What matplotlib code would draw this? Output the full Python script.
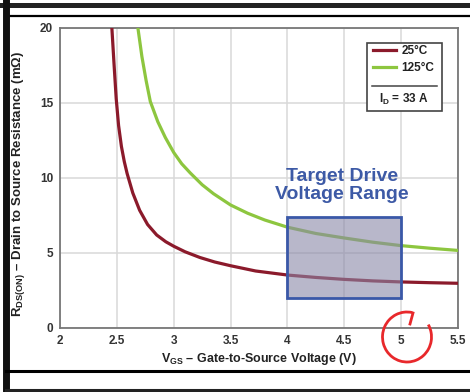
import numpy as np
import matplotlib
matplotlib.use("Agg")
import matplotlib.pyplot as plt
from matplotlib.patches import Rectangle, Arc
from matplotlib.lines import Line2D

vgs_25 = [2.456, 2.475, 2.494, 2.515, 2.54, 2.565, 2.59, 2.64, 2.70, 2.77,
          2.85, 2.93, 3.0, 3.1, 3.23, 3.36, 3.5, 3.72, 4.0, 4.25, 4.5,
          4.75, 5.0, 5.25, 5.5]
rds_25 = [20, 17.6, 15.3, 13.5, 12.1, 11.1, 10.3, 9.0, 7.85, 6.9,
          6.2, 5.75, 5.45, 5.08, 4.7, 4.4, 4.15, 3.8, 3.53, 3.37, 3.24,
          3.14, 3.07, 3.02, 2.98]
vgs_125 = [2.685, 2.72, 2.757, 2.794, 2.86, 2.926, 3.0, 3.07, 3.146, 3.25,
           3.35, 3.5, 3.65, 3.8, 4.0, 4.25, 4.5, 4.75, 5.0, 5.25, 5.5]
rds_125 = [20, 18.1, 16.5, 15.1, 13.75, 12.7, 11.7, 10.95, 10.33, 9.55,
           8.95, 8.2, 7.65, 7.2, 6.72, 6.3, 6.0, 5.72, 5.49, 5.32, 5.17]
labels = ["25°C", "125°C"]
courant = "I$_\\mathregular{D}$ = 33 A"

# Zone cible
v_min, v_max = 4.0, 5.0
r_min, r_max = 2.0, 7.4

x_ticks = [2, 2.5, 3, 3.5, 4, 4.5, 5, 5.5]
y_ticks = [0, 5, 10, 15, 20]

plt.rcParams["font.family"] = ["Liberation Sans", "DejaVu Sans"]
plt.rcParams["mathtext.fontset"] = "custom"
plt.rcParams["mathtext.rm"] = "Liberation Sans:bold"

fig = plt.figure(figsize=(4.7, 3.92), dpi=100)
ax = fig.add_axes([0.1277, 0.1633, 0.8468, 0.7653])

ax.plot(vgs_25, rds_25, color="#8b1a2b", lw=2.3, label=labels[0], zorder=3)
ax.plot(vgs_125, rds_125, color="#8dc63f", lw=2.3, label=labels[1], zorder=3)

# Rectangle de la plage de commande
ax.add_patch(Rectangle((v_min, r_min), v_max - v_min, r_max - r_min,
                       facecolor="#8a87a8", alpha=0.6, edgecolor="none", zorder=4))
ax.add_patch(Rectangle((v_min, r_min), v_max - v_min, r_max - r_min,
                       facecolor="none", edgecolor="#3a58a8", lw=2.0, zorder=5))
ax.text((v_min + v_max) / 2 - 0.02, 9.5, "Target Drive\nVoltage Range",
        ha="center", va="center", color="#3d5aa6", fontsize=14,
        fontweight="bold", linespacing=1.05, zorder=6)

ax.set_xlim(2, 5.5)
ax.set_ylim(0, 20)
ax.set_xticks(x_ticks)
ax.set_xticklabels([f"{t:g}" for t in x_ticks])
ax.set_yticks(y_ticks)
ax.tick_params(length=0, labelsize=8.5, colors="#333333", pad=5)
for lab in ax.get_xticklabels() + ax.get_yticklabels():
    lab.set_fontweight("bold")
ax.grid(True, color="#d9d9d9", lw=1.1)
ax.set_axisbelow(True)
for s in ax.spines.values():
    s.set_color("#777777")
    s.set_linewidth(1.3)

ax.set_xlabel("V$_\\mathregular{GS}$ – Gate-to-Source Voltage (V)",
              fontsize=9, fontweight="bold", color="#222222", labelpad=3)
ax.set_ylabel("R$_\\mathregular{DS(ON)}$ – Drain to Source Resistance (mΩ)",
              fontsize=9.5, fontweight="bold", color="#222222")
ax.yaxis.set_label_coords(-0.083, 0.48)

# Légende dans un cadre avec le courant
leg = ax.legend(loc="upper left", bbox_to_anchor=(0.775, 0.96), frameon=False,
                handlelength=1.9, handletextpad=0.5, fontsize=8.5,
                labelspacing=0.45, borderaxespad=0)
for t in leg.get_texts():
    t.set_fontweight("bold")
    t.set_color("#222222")
ax.add_patch(Rectangle((0.771, 0.723), 0.188, 0.228, transform=ax.transAxes,
                       facecolor="white", edgecolor="#444444", lw=1.2, zorder=6))
leg.set_zorder(7)
ax.add_line(Line2D([0.783, 0.946], [0.807, 0.807], transform=ax.transAxes,
                   color="#444444", lw=1.1, zorder=7))
ax.text(0.864, 0.762, courant, transform=ax.transAxes, ha="center",
        va="center", fontsize=8.5, fontweight="bold", color="#222222", zorder=7)

# Cadre de la capture
fig.add_artist(Line2D([0, 1], [0.9885, 0.9885], color="#222222", lw=3.6))
fig.add_artist(Line2D([0.0138, 1], [0.958, 0.958], color="black", lw=1.6))
fig.add_artist(Line2D([0.0138, 0.0138], [0, 0.995], color="#111111", lw=5))
fig.add_artist(Line2D([0.0138, 1], [0.0523, 0.0523], color="black", lw=2.2))
fig.add_artist(Line2D([0.0138, 1], [0.005, 0.005], color="#222222", lw=2.2))

# Cercle rouge dessiné à la main
fig.add_artist(Arc((407 / 470, 1 - 337 / 392), 49 / 470, 50 / 392,
                   theta1=80, theta2=395, transform=fig.transFigure,
                   color="#e8282b", lw=2.0))
fig.add_artist(Line2D([413 / 470, 410 / 470], [1 - 313 / 392, 1 - 324 / 392],
                      color="#e8282b", lw=2.0))

fig.savefig("out.png", dpi=100)
